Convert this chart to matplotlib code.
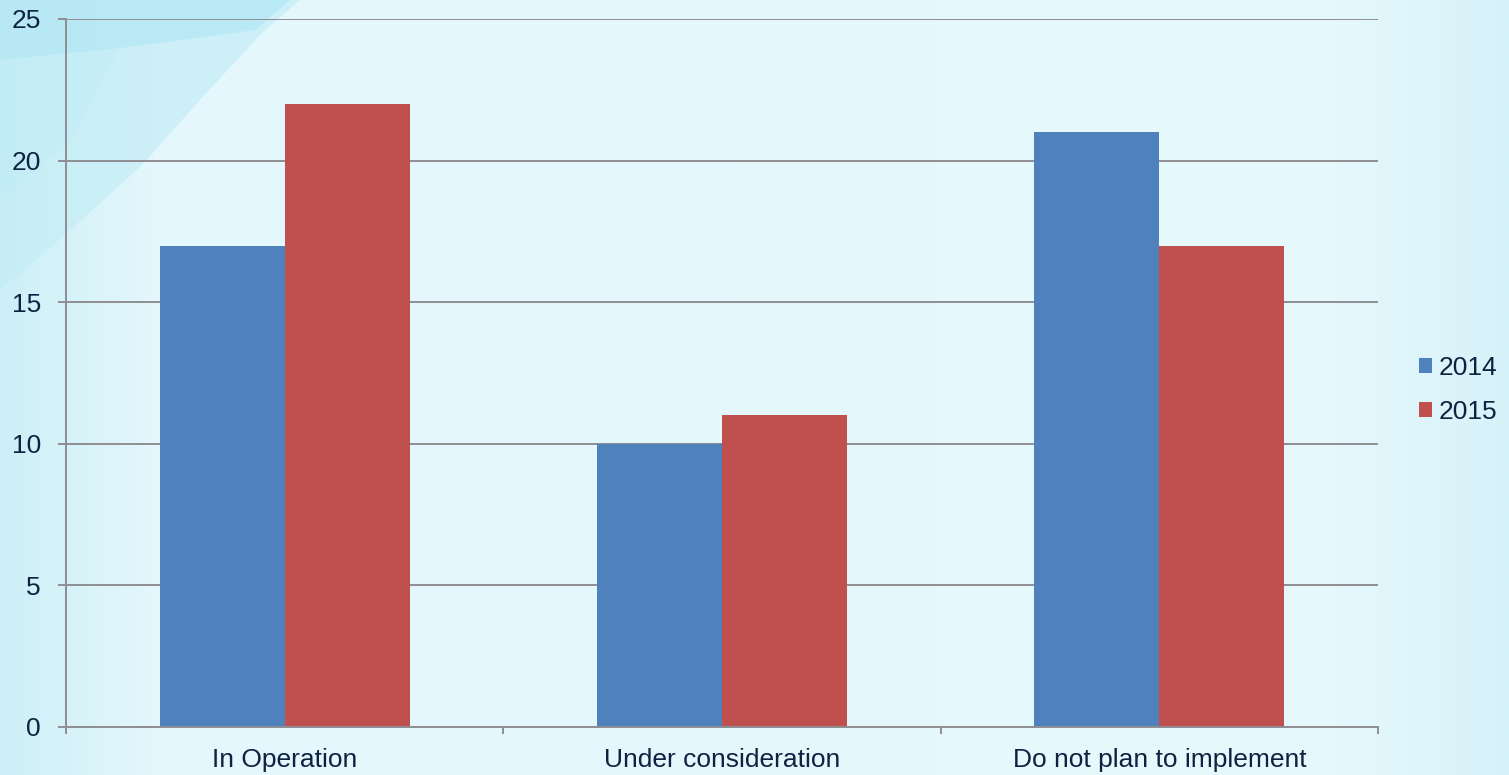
import numpy as np
import matplotlib
matplotlib.use("Agg")
import matplotlib.pyplot as plt
from matplotlib.patches import Patch, Polygon
from matplotlib.colors import LinearSegmentedColormap

plt.rcParams['font.family'] = ['Liberation Sans', 'DejaVu Sans']

categories = ['In Operation', 'Under consideration', 'Do not plan to implement']
years = ['2014', '2015']
values_2014 = [17, 10, 21]
values_2015 = [22, 11, 17]

BLUE = '#4f81bd'
RED = '#c0504d'
TEXT = '#0e2341'
GRID = '#8e8e93'
FS = 19

W, H = 1509, 775
fig = plt.figure(figsize=(W / 100, H / 100), dpi=100)

# slide background: soft cyan gradient with a swoosh in the top-left corner
bg = fig.add_axes([0, 0, 1, 1], zorder=-1)
bg.set_xlim(0, W)
bg.set_ylim(H, 0)
bg.axis('off')
cmap = LinearSegmentedColormap.from_list(
    'slide', [(0, '#cdeff7'), (0.1, '#e3f7fc'), (0.88, '#e6f9fd'), (1, '#d6f2f9')])
grad = np.linspace(0, 1, 512).reshape(1, -1)
bg.imshow(grad, cmap=cmap, aspect='auto', extent=[0, W, H, 0])
bg.add_patch(Polygon([(0, 0), (300, 0), (262, 33), (200, 100), (140, 167), (67, 233), (0, 290)],
                     closed=True, facecolor='#c4edf6', alpha=0.7, edgecolor='none'))
bg.add_patch(Polygon([(0, 0), (290, 0), (255, 30), (120, 48), (0, 60)],
                     closed=True, facecolor='#b3e7f3', alpha=0.75, edgecolor='none'))
bg.add_patch(Polygon([(0, 60), (120, 48), (70, 140), (0, 200)],
                     closed=True, facecolor='#bcebf5', alpha=0.3, edgecolor='none'))

ax = fig.add_axes([66 / W, 1 - 727 / H, (1378 - 66) / W, (727 - 19) / H])
ax.set_facecolor('none')

x = np.arange(len(categories))
bw = 0.286
ax.bar(x - bw / 2, values_2014, bw, color=BLUE, zorder=3, label=years[0])
ax.bar(x + bw / 2, values_2015, bw, color=RED, zorder=3, label=years[1])

ax.set_xlim(-0.5, len(categories) - 0.5)
ax.set_ylim(0, 25)
ax.set_yticks(range(0, 26, 5))
ax.yaxis.grid(True, color=GRID, linewidth=1.4, zorder=1)
ax.set_axisbelow(True)

for side in ['top', 'right']:
    ax.spines[side].set_visible(False)
for side in ['left', 'bottom']:
    ax.spines[side].set_color(GRID)
    ax.spines[side].set_linewidth(1.4)
    ax.spines[side].set_zorder(4)

ax.set_xticks(x)
ax.set_xticklabels(categories)
ax.set_xticks(np.arange(-0.5, len(categories)), minor=True)
ax.tick_params(axis='x', which='major', length=0, pad=15, labelsize=FS, labelcolor=TEXT)
ax.tick_params(axis='x', which='minor', length=5, width=1.4, color=GRID)
ax.tick_params(axis='y', length=6, width=1.4, color=GRID, pad=12,
               labelsize=FS, labelcolor=TEXT)

handles = [Patch(facecolor=BLUE, label=years[0]), Patch(facecolor=RED, label=years[1])]
fig.legend(handles=handles, loc='center left', bbox_to_anchor=(1419 / W, 1 - 390 / H),
           frameon=False, fontsize=FS, labelcolor=TEXT, handlelength=0.5,
           handleheight=0.5, handletextpad=0.25, labelspacing=0.75,
           borderpad=0, borderaxespad=0)

fig.savefig('out.png', dpi=100)
